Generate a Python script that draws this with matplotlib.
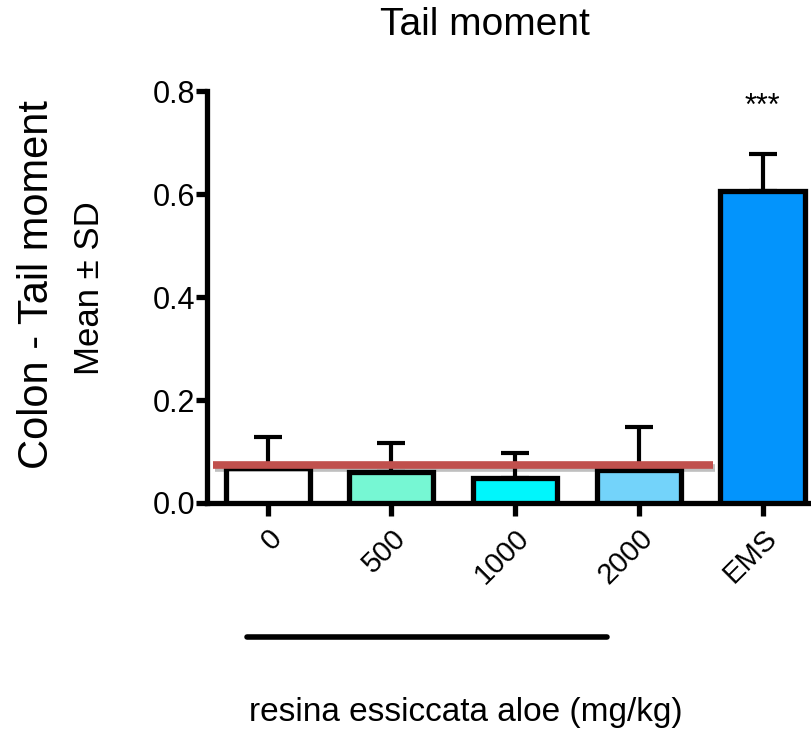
import matplotlib
matplotlib.use("Agg")
import matplotlib.pyplot as plt
import matplotlib.patheffects as pe
import matplotlib.transforms as mtransforms

plt.rcParams['font.family'] = ['Liberation Sans', 'DejaVu Sans']

# data
groups = ["0", "500", "1000", "2000", "EMS"]
means = [0.068, 0.060, 0.049, 0.064, 0.606]
sd = [0.060, 0.056, 0.048, 0.084, 0.072]
colors = ["#FFFFFF", "#76F7D3", "#00F6FC", "#73D3FA", "#0394FC"]
control_level = 0.074

fig = plt.figure(figsize=(8.12, 7.32), dpi=100)
ax = fig.add_axes([207 / 812, 1 - 503 / 732, 605 / 812, 412 / 732])

x = range(len(groups))
ax.bar(x, means, width=0.68, color=colors, edgecolor="black", linewidth=3.8, zorder=3)
ax.errorbar(x, means, yerr=[[0] * len(sd), sd], fmt="none", ecolor="black",
            elinewidth=3, capsize=10, capthick=3, zorder=2)

# reference line of the control level
ax.plot([-0.44, 3.60], [control_level, control_level], color="#C0504D", lw=5.5,
        solid_capstyle="butt", zorder=4,
        path_effects=[pe.SimpleLineShadow(offset=(1.5, -2.5), alpha=0.25), pe.Normal()])

ax.text(4, 0.77, "***", ha="center", va="center", fontsize=22)

ax.set_xlim(-0.49, 4.4)
ax.set_ylim(0, 0.8)
ax.set_yticks([0.0, 0.2, 0.4, 0.6, 0.8])
ax.set_yticklabels(["0.0", "0.2", "0.4", "0.6", "0.8"], fontsize=22)
ax.set_xticks(list(x))
ax.set_xticklabels(groups, fontsize=21, rotation=45, ha="right", rotation_mode="anchor")

for s in ["top", "right"]:
    ax.spines[s].set_visible(False)
for s in ["left", "bottom"]:
    ax.spines[s].set_linewidth(3.8)
    ax.spines[s].set_capstyle("projecting")
ax.tick_params(axis="y", length=8, width=3.8, pad=0.5)
ax.tick_params(axis="x", length=9, width=3.8, pad=6)

fig.text(485 / 812, 1 - 25 / 732, "Tail moment", ha="center", va="center", fontsize=28)

# dose group bar below tick labels
trans = mtransforms.blended_transform_factory(ax.transData, ax.transAxes)
ax.plot([-0.167, 2.74], [-0.325, -0.325], color="black", lw=4, transform=trans,
        clip_on=False, solid_capstyle="round")

fig.text(466 / 812, 1 - 713 / 732, "resina essiccata aloe (mg/kg)", ha="center",
         va="center", fontsize=24)
fig.text(37 / 812, 1 - 285 / 732, "Colon - Tail moment", rotation=90, ha="center",
         va="center", fontsize=30)
fig.text(90 / 812, 1 - 288 / 732, "Mean ± SD", rotation=90, ha="center",
         va="center", fontsize=25)

fig.savefig("out.png", dpi=100)
